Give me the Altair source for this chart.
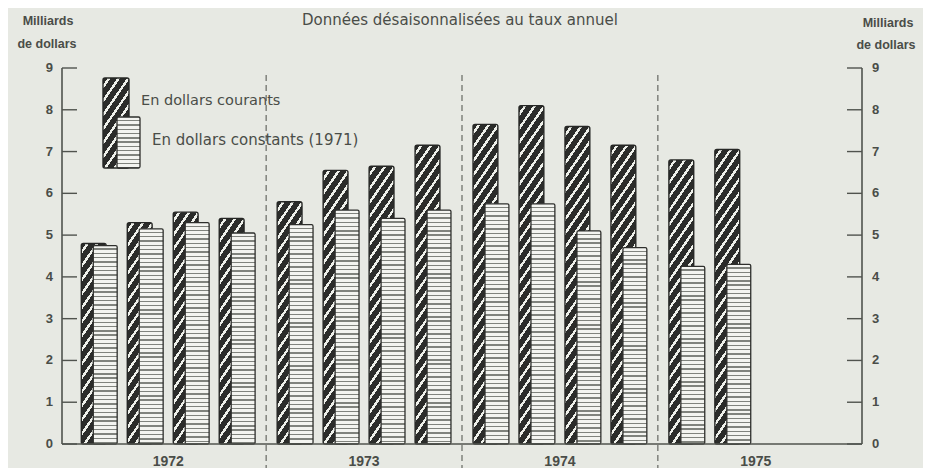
import altair as alt
import pandas as pd

# ---------------- data ----------------
years = ["1972", "1973", "1974", "1975"]
quarters = ["T1", "T2", "T3", "T4"]
courants = [4.8, 5.3, 5.55, 5.4, 5.8, 6.55, 6.65, 7.15, 7.65, 8.1, 7.6, 7.15, 6.8, 7.05]
constants = [4.75, 5.15, 5.3, 5.05, 5.25, 5.6, 5.4, 5.6, 5.75, 5.75, 5.1, 4.7, 4.25, 4.3]
y_ticks = [0, 1, 2, 3, 4, 5, 6, 7, 8, 9]

# ---------------- layout ----------------
W, H = 800, 376
YMAX = 9
X_MAX = 17.4
YEAR_SPAN = 4.26
LEAD = 0.42
DARK_W = 0.54
LIGHT_OFF = 0.26
LIGHT_W = 0.52
PX_X = W / X_MAX
PX_Y = H / YMAX

DARK = "#2b2c2a"
STRIPE = "#eef0ea"
LINE = "#80837d"
PAPER = "#f3f4f0"
INK = "#4a4d48"
BG = "#e7e9e3"
FONT = "Liberation Sans"
TFONT = "DejaVu Sans"

rows = []
for k, (c, s) in enumerate(zip(courants, constants)):
    i, q = divmod(k, 4)
    start = LEAD + YEAR_SPAN * i + q
    rows.append({
        "k": k, "annee": years[i], "trimestre": quarters[q],
        "courants": c, "constants": s,
        "d0": start, "d1": start + DARK_W,
        "l0": start + LIGHT_OFF, "l1": start + LIGHT_OFF + LIGHT_W,
        "base": 0.0,
    })
df = pd.DataFrame(rows)

pad_year = (YEAR_SPAN - 3 - LIGHT_OFF - LIGHT_W) / 2
bounds = pd.DataFrame({"b": [LEAD + YEAR_SPAN * i - pad_year for i in range(1, 4)]})
year_df = pd.DataFrame({
    "annee": years,
    "c": [LEAD + YEAR_SPAN * i + 1.5 + (LIGHT_OFF + LIGHT_W) / 2 for i in range(4)],
})
tick_df = pd.DataFrame({"t": y_ticks})
one = pd.DataFrame({"z": [0]})

xscale = alt.Scale(domain=[0, X_MAX], nice=False, zero=False)
yscale = alt.Scale(domain=[0, YMAX], nice=False)


def diag_gradient(w, h, k=1.45, period=14.0, frac=0.3):
    a, b = k * w / h, 1.0
    t = (a + b) / (a * a + b * b)
    P = period / (h * (a + b))
    stops = []
    o = -P * 0.5
    while o < 1:
        seg = [(o, STRIPE), (o + frac * P, STRIPE), (o + frac * P, DARK), (o + P, DARK)]
        for off, col in seg:
            stops.append({"offset": round(min(max(off, 0), 1), 5), "color": col})
        o += P
    return {"gradient": "linear", "x1": 0, "y1": 0, "x2": round(t * a, 5),
            "y2": round(t * b, 5), "stops": stops}


def wave_gradient(h, period=4.3, frac=0.32):
    P = period / h
    stops = []
    o = 0.0
    while o < 1:
        seg = [(o, PAPER), (o + (1 - frac) * P, PAPER), (o + (1 - frac) * P, LINE), (o + P, LINE)]
        for off, col in seg:
            stops.append({"offset": round(min(off, 1), 5), "color": col})
        o += P
    return {"gradient": "linear", "x1": 0, "y1": 0, "x2": 0, "y2": 1, "stops": stops}


layers = []
base = alt.Chart(df)
for r in rows:
    hd = r["courants"] * PX_Y
    layers.append(
        base.mark_bar(fill=diag_gradient(DARK_W * PX_X, hd), stroke="#262725",
                      strokeWidth=1.4, cornerRadius=2)
        .encode(x=alt.X("d0:Q", scale=xscale, axis=None), x2="d1:Q",
                y=alt.Y("courants:Q", scale=yscale, axis=None), y2="base:Q",
                tooltip=["annee", "trimestre", "courants"])
        .transform_filter(alt.datum.k == r["k"])
    )
for r in rows:
    hl = r["constants"] * PX_Y
    layers.append(
        base.mark_bar(fill=wave_gradient(hl), stroke="#2e2f2c",
                      strokeWidth=1.3, cornerRadius=1.5)
        .encode(x=alt.X("l0:Q", scale=xscale, axis=None), x2="l1:Q",
                y=alt.Y("constants:Q", scale=yscale, axis=None), y2="base:Q",
                tooltip=["annee", "trimestre", "constants"])
        .transform_filter(alt.datum.k == r["k"])
    )

# year separators
layers.append(
    alt.Chart(bounds).mark_rule(color="#5a5d57", strokeWidth=1.1, strokeDash=[6, 4])
    .encode(x=alt.X("b:Q", scale=xscale, axis=None), y=alt.value(7), y2=alt.value(H + 40))
)

# axis lines
lc = "#50534e"
layers.append(alt.Chart(one).mark_rule(color=lc, strokeWidth=1.6)
              .encode(x=alt.value(0), y=alt.value(0), y2=alt.value(H)))
layers.append(alt.Chart(one).mark_rule(color=lc, strokeWidth=1.6)
              .encode(x=alt.value(W), y=alt.value(0), y2=alt.value(H)))
layers.append(alt.Chart(one).mark_rule(color=lc, strokeWidth=1.6)
              .encode(x=alt.value(0), x2=alt.value(W), y=alt.value(H)))

# inward ticks
layers.append(alt.Chart(tick_df).mark_rule(color=lc, strokeWidth=1.4)
              .encode(y=alt.Y("t:Q", scale=yscale, axis=None), x=alt.value(0), x2=alt.value(15)))
layers.append(alt.Chart(tick_df).mark_rule(color=lc, strokeWidth=1.4)
              .encode(y=alt.Y("t:Q", scale=yscale, axis=None), x=alt.value(W - 15), x2=alt.value(W)))

# tick labels
layers.append(alt.Chart(tick_df).mark_text(align="right", baseline="middle", font=FONT,
                                           fontSize=13, fontWeight="bold", color=INK)
              .encode(y=alt.Y("t:Q", scale=yscale, axis=None), x=alt.value(-9), text="t:Q"))
layers.append(alt.Chart(tick_df).mark_text(align="left", baseline="middle", font=FONT,
                                           fontSize=13, fontWeight="bold", color=INK)
              .encode(y=alt.Y("t:Q", scale=yscale, axis=None), x=alt.value(W + 10), text="t:Q"))

# year labels
layers.append(alt.Chart(year_df).mark_text(align="center", baseline="middle", font=FONT,
                                           fontSize=14, fontWeight="bold", color=INK)
              .encode(x=alt.X("c:Q", scale=xscale, axis=None), y=alt.value(H + 18), text="annee:N"))


def label(txt, x, y, align="center", size=12, weight="normal", font=FONT):
    return alt.Chart(one).mark_text(text=txt, align=align, baseline="middle", font=font,
                                    fontSize=size, fontWeight=weight, color=INK) \
        .encode(x=alt.value(x), y=alt.value(y))


layers.append(label("Données désaisonnalisées au taux annuel", 398, -48, size=15, font=TFONT))
layers.append(label("Milliards", -14, -47, size=12.5, weight="bold"))
layers.append(label("de dollars", -15, -24, size=12.5, weight="bold"))
layers.append(label("Milliards", 826, -45, size=12.5, weight="bold"))
layers.append(label("de dollars", 824, -23, size=12.5, weight="bold"))

# legend
layers.append(alt.Chart(one).mark_rect(fill=diag_gradient(26, 90), stroke="#262725",
                                       strokeWidth=1.4, cornerRadius=2)
              .encode(x=alt.value(41), x2=alt.value(67), y=alt.value(10), y2=alt.value(100)))
layers.append(alt.Chart(one).mark_rect(fill=wave_gradient(51), stroke="#2e2f2c",
                                       strokeWidth=1.3, cornerRadius=1.5)
              .encode(x=alt.value(55), x2=alt.value(78), y=alt.value(49), y2=alt.value(100)))
layers.append(label("En dollars courants", 79, 33, align="left", size=14.5, font=TFONT))
layers.append(label("En dollars constants (1971)", 90, 72, align="left", size=15, font=TFONT))

chart = alt.layer(*layers).properties(
    width=W, height=H,
    autosize=alt.AutoSizeParams(type="none"),
    padding={"left": 54, "top": 60, "right": 61, "bottom": 24},
    background=BG,
).configure_view(stroke=None)

chart.save("out.html", embed_options={"renderer": "svg", "actions": False})
